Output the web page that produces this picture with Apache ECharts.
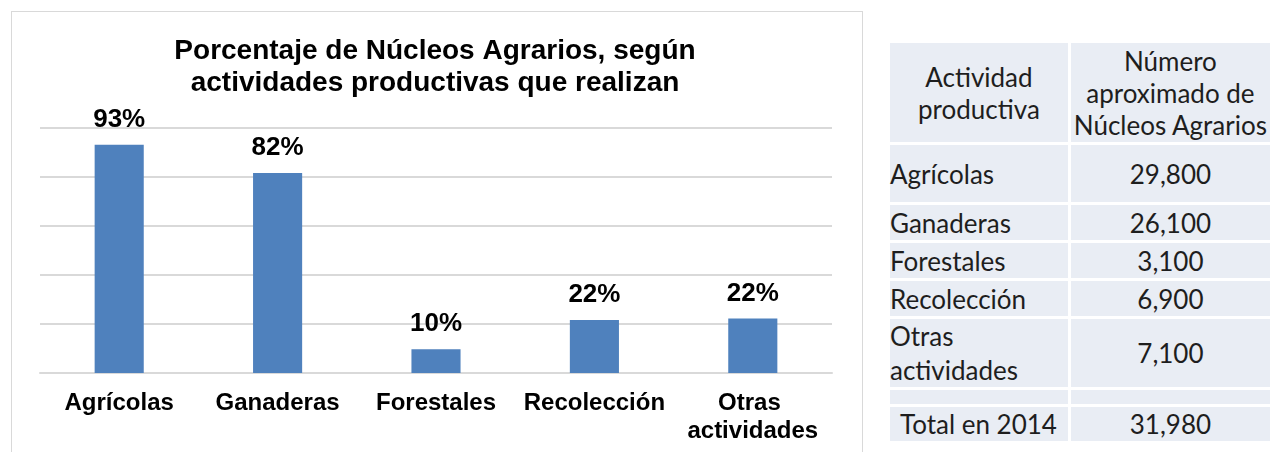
<!DOCTYPE html>
<html>
<head>
<meta charset="utf-8">
<script src="https://cdn.jsdelivr.net/npm/echarts@6/dist/echarts.min.js"></script>
<style>
  body { margin: 0; background: #fff; width: 1273px; height: 452px; overflow: hidden; position: relative; }
  #frame { position: absolute; left: 11px; top: 11px; width: 850px; height: 460px; border: 1px solid #d9d9d9; }
  #chart { position: absolute; left: 0; top: 0; width: 870px; height: 452px; }
  #tabla { position: absolute; left: 887px; top: 40px; border-collapse: separate; border-spacing: 3px;
           font-family: Lato, "Open Sans", sans-serif; font-size: 26px; color: #1e1e1e; }
  #tabla td { background: #e9edf4; padding: 0; vertical-align: middle; white-space: normal; }
  #tabla td.num { text-align: center; }
  #tabla tr.head td { text-align: center; line-height: 32px; }
  #tabla td.name { line-height: 34px; }
</style>
</head>
<body>
<div id="frame"></div>
<div id="chart"></div>
<table id="tabla"></table>
<script>
// datos
var categories = ["Agrícolas", "Ganaderas", "Forestales", "Recolección", "Otras actividades"];
var percentValues = [93.2, 81.6, 9.7, 21.6, 22.2];
var nucleosCount = [29800, 26100, 3100, 6900, 7100];
var totalLabel = "Total en 2014";
var totalCount = 31980;

var fmt = function (n) {
  return n.toLocaleString("en-US");
};

// tabla de la derecha
var rowHeights = [57, 35, 35, 35, 66];
var html = '<tr class="head"><td style="width:179px;height:99px">Actividad<br>productiva</td>' +
  '<td style="width:201px">Número<br>aproximado de<br>Núcleos Agrarios</td></tr>';
for (var i = 0; i < categories.length; i++) {
  html += '<tr><td class="name" style="height:' + rowHeights[i] + 'px">' + categories[i] + '</td>' +
    '<td class="num">' + fmt(nucleosCount[i]) + '</td></tr>';
}
html += '<tr><td style="height:14px"></td><td></td></tr>';
html += '<tr><td style="height:34px;padding-left:10px">' + totalLabel + '</td><td class="num">' + fmt(totalCount) + '</td></tr>';
document.getElementById("tabla").innerHTML = html;

// grafica
var myChart = echarts.init(document.getElementById("chart"));
var font = "'Liberation Sans', Arial, sans-serif";
var option = {
  title: {
    text: "Porcentaje de Núcleos Agrarios, según\nactividades productivas que realizan",
    left: "center",
    top: 30,
    textStyle: { fontFamily: font, fontWeight: "bold", fontSize: 28, lineHeight: 32, color: "#000" },
  },
  grid: { left: 40, right: 38, top: 128, bottom: 79 },
  xAxis: {
    type: "category",
    data: categories,
    axisLine: { lineStyle: { color: "#d9d9d9", width: 2 } },
    axisTick: { show: false },
    axisLabel: {
      interval: 0,
      margin: 16,
      width: 155,
      overflow: "break",
      fontFamily: font,
      fontWeight: "bold",
      fontSize: 24,
      lineHeight: 28,
      color: "#000",
    },
  },
  yAxis: {
    type: "value",
    min: 0,
    max: 100,
    interval: 20,
    axisLabel: { show: false },
    axisLine: { show: false },
    axisTick: { show: false },
    splitLine: { lineStyle: { color: "#d9d9d9", width: 2 } },
  },
  series: [
    {
      type: "bar",
      data: percentValues,
      barWidth: "31%",
      itemStyle: { color: "#4f81bd" },
      label: {
        show: true,
        position: "top",
        distance: 12,
        formatter: (e) => Math.round(e.value) + "%",
        fontFamily: font,
        fontWeight: "bold",
        fontSize: 26,
        color: "#000",
      },
    },
  ],
};
myChart.setOption(option);
</script>
</body>
</html>
